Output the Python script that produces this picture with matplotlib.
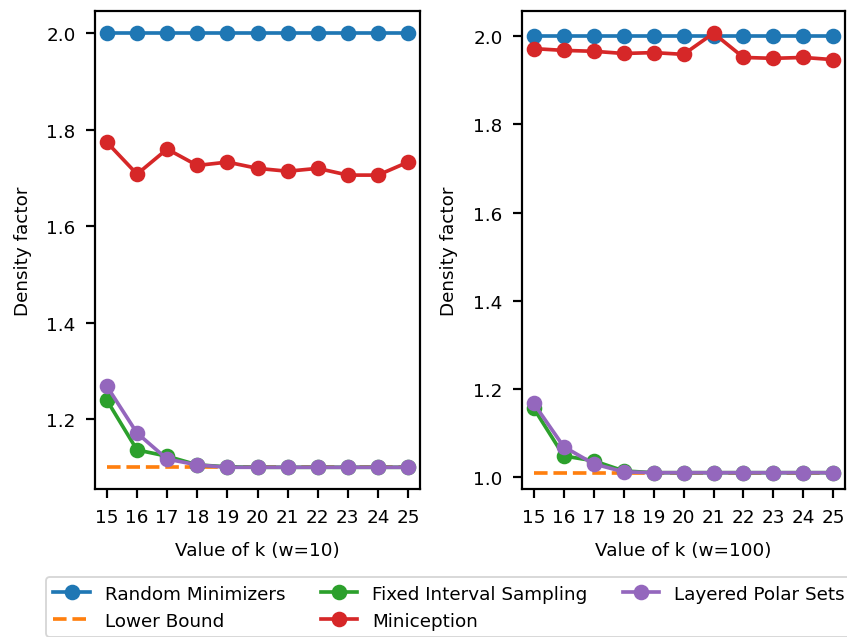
import numpy as np
import matplotlib
matplotlib.use('Agg')
import matplotlib.pyplot as plt

# k values on the x axis
ks = list(range(15, 26))

# w = 10 panel
rand_w10 = [2.0] * 11
lower_w10 = [1.1] * 11
fixed_w10 = [1.239, 1.136, 1.123, 1.105, 1.101, 1.1, 1.1, 1.1, 1.1, 1.1, 1.1]
minicep_w10 = [1.774, 1.708, 1.760, 1.726, 1.733, 1.720, 1.714, 1.720, 1.706, 1.706, 1.733]
polar_w10 = [1.268, 1.171, 1.117, 1.105, 1.100, 1.1, 1.1, 1.1, 1.1, 1.1, 1.1]

# w = 100 panel
rand_w100 = [2.0] * 11
lower_w100 = [1.01] * 11
fixed_w100 = [1.156, 1.048, 1.037, 1.014, 1.010, 1.01, 1.01, 1.01, 1.01, 1.01, 1.01]
minicep_w100 = [1.972, 1.968, 1.966, 1.961, 1.963, 1.959, 2.007, 1.952, 1.950, 1.952, 1.947]
polar_w100 = [1.167, 1.069, 1.030, 1.012, 1.010, 1.01, 1.01, 1.01, 1.01, 1.01, 1.01]

plt.rcParams['axes.linewidth'] = 1.2
plt.rcParams['xtick.major.size'] = 5
plt.rcParams['ytick.major.size'] = 5
plt.rcParams['xtick.major.width'] = 1.2
plt.rcParams['ytick.major.width'] = 1.2
plt.rcParams['xtick.major.pad'] = 5.5
plt.rcParams['ytick.major.pad'] = 5.5

fig = plt.figure(figsize=(6.417, 4.833), dpi=132)
ax1 = fig.add_axes([0.112, 0.232, 0.384, 0.749])
ax2 = fig.add_axes([0.616, 0.232, 0.382, 0.749])

def draw(ax, rand, lower, fixed, minicep, polar, w):
    ms = 7.5
    lw = 2
    ax.plot(ks, rand, '-o', color='#1f77b4', lw=lw, ms=ms, label='Random Minimizers')
    ax.plot(ks, lower, '--', color='#ff7f0e', lw=lw, label='Lower Bound')
    ax.plot(ks, fixed, '-o', color='#2ca02c', lw=lw, ms=ms, label='Fixed Interval Sampling')
    ax.plot(ks, minicep, '-o', color='#d62728', lw=lw, ms=ms, label='Miniception')
    ax.plot(ks, polar, '-o', color='#9467bd', lw=lw, ms=ms, label='Layered Polar Sets')
    ax.set_xticks(ks)
    ax.set_xlabel('Value of k (w=%d)' % w, labelpad=8)
    ax.set_ylabel('Density factor', labelpad=8)

draw(ax1, rand_w10, lower_w10, fixed_w10, minicep_w10, polar_w10, 10)
draw(ax2, rand_w100, lower_w100, fixed_w100, minicep_w100, polar_w100, 100)

ax1.set_xlim(14.6, 25.4)
ax2.set_xlim(14.6, 25.4)
ax1.set_yticks([1.2, 1.4, 1.6, 1.8, 2.0])
ax2.set_yticks([1.0, 1.2, 1.4, 1.6, 1.8, 2.0])
ax1.set_ylim(1.055, 2.046)
ax2.set_ylim(0.973, 2.057)

# legend below both panels, 3 columns
handles, labels = ax1.get_legend_handles_labels()
fig.legend(handles, labels, loc='lower left', ncol=3, bbox_to_anchor=(0.05, -0.006, 0.96, 0.1),
           mode='expand', frameon=True, fontsize=10, handlelength=2, borderaxespad=0.2)

plt.savefig('out.png', dpi=132)
